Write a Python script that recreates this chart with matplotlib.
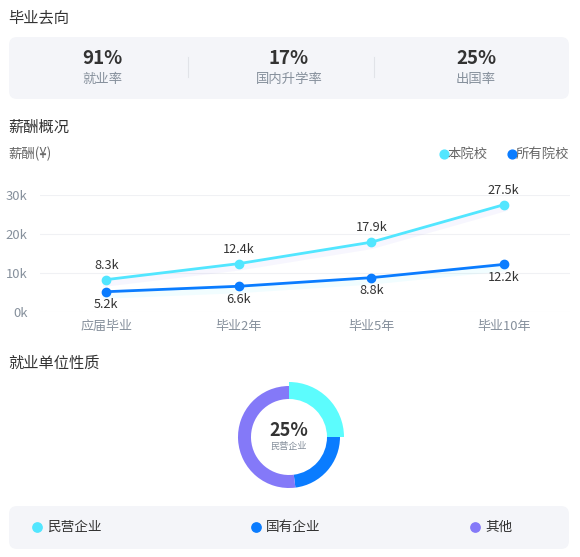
import matplotlib
matplotlib.use("Agg")
import matplotlib.pyplot as plt
from matplotlib.patches import FancyBboxPatch
import matplotlib.patheffects as pe

plt.rcParams['font.family'] = ['Noto Sans CJK SC', 'DejaVu Sans']

# ---------------- data ----------------
rate_values = ["91%", "17%", "25%"]
rate_labels = ["就业率", "国内升学率", "出国率"]

categories = ["应届毕业", "毕业2年", "毕业5年", "毕业10年"]
school_salary = [8.3, 12.4, 17.9, 27.5]      # k
all_salary = [5.2, 6.6, 8.8, 12.2]            # k
series_names = ["本院校", "所有院校"]
y_ticks = [0, 10, 20, 30]

unit_labels = ["民营企业", "国有企业", "其他"]
unit_shares = [25, 23, 52]

C_CYAN = "#52E6FF"
C_BLUE = "#0A7CFF"
C_PURPLE = "#8479F8"
C_DONUT_CYAN = "#5CFCFD"
C_TITLE = "#333333"
C_GRAY = "#86909C"
C_BOX = "#F4F5F9"

W, H = 580, 557
fig = plt.figure(figsize=(W / 100, H / 100), dpi=100)

# background canvas in pixel coords
bg = fig.add_axes([0, 0, 1, 1])
bg.set_xlim(0, W)
bg.set_ylim(H, 0)
bg.axis("off")

def box(x0, y0, x1, y1):
    p = FancyBboxPatch((x0, y0), x1 - x0, y1 - y0,
                       boxstyle="round,pad=0,rounding_size=8",
                       fc=C_BOX, ec="none")
    bg.add_patch(p)

# ---- section 1 ----
bg.text(8, 18, "毕业去向", fontsize=11, color=C_TITLE, va="center", ha="left")
box(9, 37, 569, 99)
xs = [102, 289, 476]
for x, v, l in zip(xs, rate_values, rate_labels):
    bg.text(x, 58, v, fontsize=13.5, fontweight="bold", color=C_TITLE, ha="center", va="center")
    bg.text(x, 79, l, fontsize=9.6, color=C_GRAY, ha="center", va="center")
for x in [188, 374]:
    bg.plot([x, x], [57, 77], color="#E1E3E8", lw=0.8)

# ---- section 2 ----
bg.text(8, 127, "薪酬概况", fontsize=11, color=C_TITLE, va="center", ha="left")
bg.text(8, 154, "薪酬(¥)", fontsize=9.6, color="#666666", va="center", ha="left")
# legend
leg_items = [(444, series_names[0], C_CYAN), (512, series_names[1], C_BLUE)]
for x, name, c in leg_items:
    bg.scatter([x], [154], s=40, color=c, zorder=3)
    bg.text(x + 4, 154, name, fontsize=9.6, color="#666666", va="center", ha="left")

ax = fig.add_axes([40 / W, 1 - 312 / H, 530 / W, 117 / H])
x_idx = list(range(len(categories)))
ax.set_xlim(-0.5, len(categories) - 0.5)
ax.set_ylim(0, 30)
ax.set_yticks(y_ticks)
ax.set_yticklabels([f"{t}k" for t in y_ticks])
ax.set_xticks(x_idx)
ax.set_xticklabels(categories)
ax.tick_params(axis="both", length=0, colors=C_GRAY, labelsize=9.4)
ax.tick_params(axis="y", pad=9)
ax.tick_params(axis="x", pad=6)
for s in ax.spines.values():
    s.set_visible(False)
ax.grid(axis="y", color="#F0F1F4", lw=0.8)
ax.set_axisbelow(True)
ax.patch.set_alpha(0)

shadow_cyan = [pe.SimpleLineShadow(offset=(0, -2.5), shadow_color="#7D6CF5", alpha=0.06, linewidth=5), pe.Normal()]
shadow_blue = [pe.SimpleLineShadow(offset=(0, -2.5), shadow_color="#52E6FF", alpha=0.08, linewidth=5), pe.Normal()]
ax.plot(x_idx, school_salary, color=C_CYAN, lw=2.0, zorder=3, path_effects=shadow_cyan)
ax.plot(x_idx, all_salary, color=C_BLUE, lw=2.0, zorder=4, path_effects=shadow_blue)
ax.plot(x_idx, school_salary, ls="none", color=C_CYAN, marker="o", ms=6, zorder=5, clip_on=False)
ax.plot(x_idx, all_salary, ls="none", color=C_BLUE, marker="o", ms=6, zorder=6, clip_on=False)
for i, v in enumerate(school_salary):
    ax.annotate(f"{v}k", (i, v), xytext=(0, 10.5), textcoords="offset points",
                ha="center", va="center", fontsize=9.2, color=C_TITLE)
for i, v in enumerate(all_salary):
    ax.annotate(f"{v}k", (i, v), xytext=(0, -9.5), textcoords="offset points",
                ha="center", va="center", fontsize=9.2, color=C_TITLE)

# ---- section 3 ----
bg.text(8, 363, "就业单位性质", fontsize=11, color=C_TITLE, va="center", ha="left")

cx, cy, half = 289, 437, 60
dax = fig.add_axes([(cx - half) / W, 1 - (cy + half) / H, 2 * half / W, 2 * half / H])
dax.set_xlim(-1, 1)
dax.set_ylim(-1, 1)
dax.set_aspect("equal")
dax.axis("off")
r_out = 51 / half
r_in = 38 / half
r_hl = 55 / half
wedges, _ = dax.pie(unit_shares, colors=[C_DONUT_CYAN, C_BLUE, C_PURPLE], startangle=90,
                    counterclock=False, radius=r_out,
                    wedgeprops=dict(width=r_out - r_in, linewidth=0))
wedges[0].set_radius(r_hl)
wedges[0].set_width(r_hl - r_in)
dax.set_xlim(-1, 1)
dax.set_ylim(-1, 1)
bg.text(cx, 431, f"{unit_shares[0]}%", fontsize=13, fontweight="bold", color=C_TITLE,
        ha="center", va="center")
bg.text(cx, 446, unit_labels[0], fontsize=6.6, color=C_GRAY, ha="center", va="center")

box(9, 506, 569, 549)
leg_x = [37, 256, 475]
for x, name, c in zip(leg_x, unit_labels, [C_CYAN, C_BLUE, C_PURPLE]):
    bg.scatter([x], [527], s=45, color=c, zorder=3)
    bg.text(x + 10, 527, name, fontsize=9.8, color=C_TITLE, va="center", ha="left")

fig.savefig("out.png", dpi=100)
